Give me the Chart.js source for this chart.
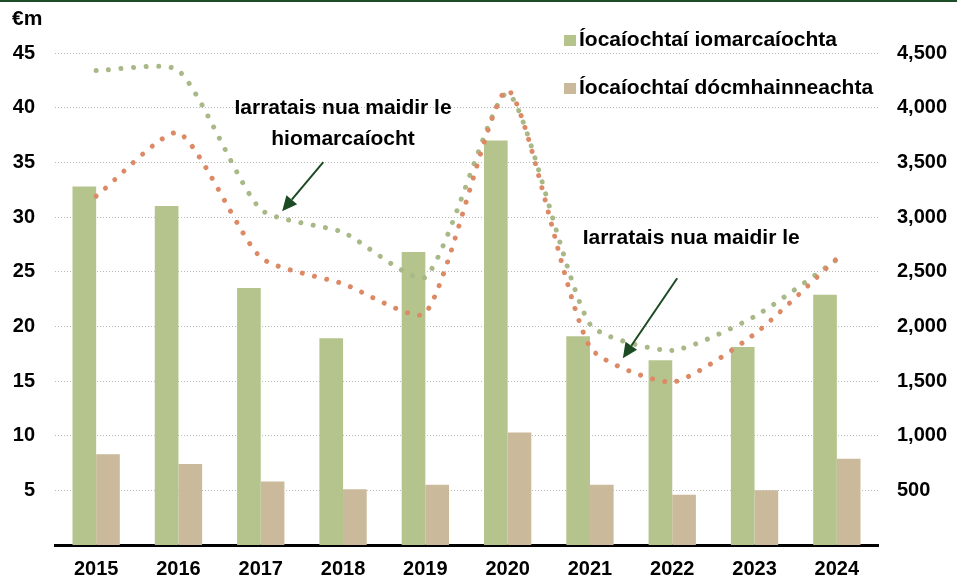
<!DOCTYPE html>
<html>
<head>
<meta charset="utf-8">
<script src="https://cdn.jsdelivr.net/npm/chart.js@4/dist/chart.umd.min.js"></script>
<style>
  html, body { margin: 0; padding: 0; background: #fff; }
  #wrap { width: 957px; height: 583px; position: relative; }
</style>
</head>
<body>
<div id="wrap"><canvas id="c" width="957" height="583"></canvas></div>
<script>
// ---- Data ----
const years = ['2015','2016','2017','2018','2019','2020','2021','2022','2023','2024'];
const redundancyPayments = [32.8, 31.0, 23.5, 18.9, 26.8, 37.0, 19.1, 16.9, 18.1, 22.9];   // €m
const insolvencyPayments = [8.3, 7.4, 5.8, 5.1, 5.5, 10.3, 5.5, 4.6, 5.0, 7.9];          // €m
const redundancyApplications = [4340, 4340, 3070, 2860, 2450, 4130, 2020, 1780, 2090, 2610];
const insolvencyApplications = [3190, 3770, 2630, 2390, 2120, 4160, 1810, 1490, 1930, 2620];
const leftTicks = [5, 10, 15, 20, 25, 30, 35, 40, 45];
const rightTicks = [500, 1000, 1500, 2000, 2500, 3000, 3500, 4000, 4500];

const seriesNames = ['Íocaíochtaí iomarcaíochta', 'Íocaíochtaí dócmhainneachta'];
const annotationLine1 = 'Iarratais nua maidir le';
const annotationLine2 = 'hiomarcaíocht';
const annotationText2 = 'Iarratais nua maidir le';

const GREEN = '#b5c48c';
const TAN = '#cab99b';
const GREEN_LINE = '#a8b886';
const ORANGE_LINE = '#dc8966';
const ARROW = '#1c4a22';
const FONT = "'Liberation Sans', Arial, sans-serif";

const overlay = {
  id: 'overlay',
  afterDraw(chart) {
    const ctx = chart.ctx;
    const xs = chart.scales.x, yr = chart.scales.yR;
    ctx.save();
    // top border
    ctx.fillStyle = '#1d4d27';
    ctx.fillRect(0, 0, chart.width, 2);
    // unit label
    ctx.fillStyle = '#000';
    ctx.font = 'bold 21px ' + FONT;
    ctx.textBaseline = 'middle';
    ctx.textAlign = 'left';
    ctx.fillText('€m', 12, 19);
    // legend
    const colors = [GREEN, TAN];
    const ly = [40, 88];
    ctx.font = 'bold 21px ' + FONT;
    seriesNames.forEach((n, i) => {
      ctx.fillStyle = colors[i];
      ctx.fillRect(564, ly[i] - 5, 12, 11);
      ctx.fillStyle = '#000';
      ctx.fillText(n, 579, ly[i]);
    });
    // annotations
    ctx.textAlign = 'center';
    ctx.font = 'bold 21px ' + FONT;
    ctx.fillText(annotationLine1, xs.getPixelForValue(3), yr.getPixelForValue(3996));
    ctx.fillText(annotationLine2, xs.getPixelForValue(3), yr.getPixelForValue(3712));
    ctx.fillText(annotationText2, xs.getPixelForValue(7.23), yr.getPixelForValue(2806));
    function arrow(x1, y1, x2, y2) {
      const ang = Math.atan2(y2 - y1, x2 - x1);
      const hl = 15, hw = 7;
      const bx = x2 - hl * Math.cos(ang), by = y2 - hl * Math.sin(ang);
      ctx.strokeStyle = ARROW; ctx.fillStyle = ARROW; ctx.lineWidth = 2;
      ctx.beginPath(); ctx.moveTo(x1, y1); ctx.lineTo(bx, by); ctx.stroke();
      ctx.beginPath();
      ctx.moveTo(x2, y2);
      ctx.lineTo(bx + hw * Math.sin(ang), by - hw * Math.cos(ang));
      ctx.lineTo(bx - hw * Math.sin(ang), by + hw * Math.cos(ang));
      ctx.closePath(); ctx.fill();
    }
    arrow(xs.getPixelForValue(2.76), yr.getPixelForValue(3502), xs.getPixelForValue(2.26), yr.getPixelForValue(3053));
    arrow(xs.getPixelForValue(7.06), yr.getPixelForValue(2440), xs.getPixelForValue(6.40), yr.getPixelForValue(1709));
    ctx.restore();
  }
};

const dotted = (color) => ({
  type: 'line',
  yAxisID: 'yR',
  borderColor: color,
  backgroundColor: color,
  borderWidth: 5,
  borderDash: [0.01, 12.5],
  borderCapStyle: 'round',
  pointRadius: 0,
  tension: 0.2,
  fill: false
});

new Chart(document.getElementById('c'), {
  data: {
    labels: years,
    datasets: [
      Object.assign(dotted(GREEN_LINE), { label: annotationLine1 + ' ' + annotationLine2, data: redundancyApplications, order: 1 }),
      Object.assign(dotted(ORANGE_LINE), { label: annotationText2, data: insolvencyApplications, order: 0 }),
      { type: 'bar', label: seriesNames[0], data: redundancyPayments, backgroundColor: GREEN, yAxisID: 'yL', order: 2,
        barPercentage: 1, categoryPercentage: 0.575 },
      { type: 'bar', label: seriesNames[1], data: insolvencyPayments, backgroundColor: TAN, yAxisID: 'yL', order: 3,
        barPercentage: 1, categoryPercentage: 0.575 }
    ]
  },
  options: {
    responsive: false,
    animation: false,
    layout: { padding: { top: 53, left: 0, right: 0, bottom: 0 } },
    plugins: { legend: { display: false }, tooltip: { enabled: false } },
    scales: {
      x: {
        type: 'category',
        offset: true,
        grid: { display: false, drawTicks: false },
        border: { display: true, color: '#000', width: 3 },
        ticks: { color: '#000', font: { family: FONT, size: 20, weight: 'bold' }, padding: 12, maxRotation: 0 },
        afterFit(s) { s.height = 38; }
      },
      yL: {
        position: 'left',
        min: 0, max: 45,
        afterBuildTicks(s) { s.ticks = leftTicks.map(v => ({ value: v })); },
        grid: { color: '#b8b8b8', lineWidth: 1, drawTicks: false },
        border: { display: false, dash: [1, 2] },
        ticks: { color: '#000', font: { family: FONT, size: 20, weight: 'bold' }, padding: 20 },
        afterFit(s) { s.width = 55; }
      },
      yR: {
        position: 'right',
        min: 0, max: 4500,
        afterBuildTicks(s) { s.ticks = rightTicks.map(v => ({ value: v })); },
        grid: { display: false, drawTicks: false },
        border: { display: false },
        ticks: { color: '#000', font: { family: FONT, size: 20, weight: 'bold' }, padding: 19,
          callback: (v) => v.toLocaleString('en-US') },
        afterFit(s) { s.width = 79; }
      }
    }
  },
  plugins: [overlay]
});
</script>
</body>
</html>
